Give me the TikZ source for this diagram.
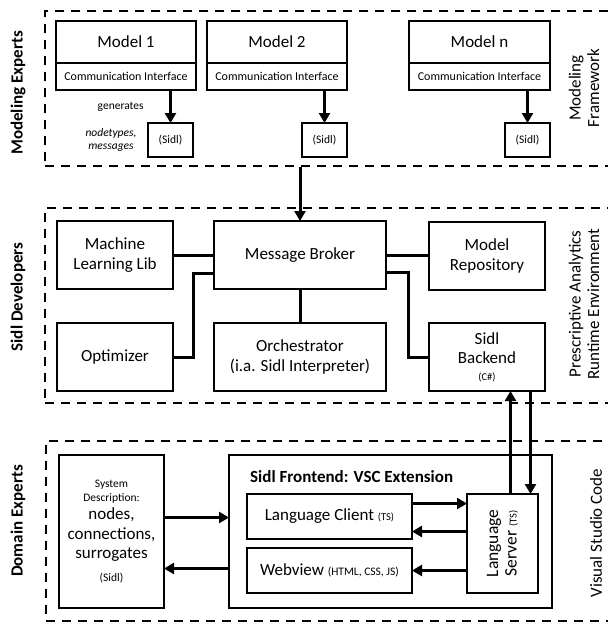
\documentclass[tikz,border=0pt]{standalone}
\usepackage{fontspec}
\setmainfont{Carlito}
\usetikzlibrary{arrows.meta,positioning}

\newcommand{\tinytext}{\fontsize{10.5}{11}\selectfont}
\newcommand{\smalltext}{\fontsize{11.5}{13}\selectfont}
\newcommand{\normtext}{\fontsize{17}{19.5}\selectfont}

\begin{document}
\begin{tikzpicture}[x=1pt, y=-1pt,
			block/.style={rectangle, draw, line width=2pt, inner sep=0pt, outer sep=0pt, align=center, anchor=north west, font=\normtext},
			iface/.style={block, font=\fontsize{12}{14}\selectfont},
			small/.style={block, font=\smalltext},
			group/.style={rectangle, draw, line width=1.8pt, dash pattern=on 9pt off 7pt, anchor=north west, inner sep=0pt},
			role/.style={rotate=90, font=\bfseries\fontsize{17}{19}\selectfont},
			env/.style={rotate=90, align=center, font=\fontsize{17}{18.5}\selectfont},
			conn/.style={line width=3pt},
			arrow/.style={line width=3pt, -{Triangle[length=10pt, width=11pt]}}
		]
		\useasboundingbox (0,0) rectangle (608,622);

		% Groups
		\node[group, minimum width=580, minimum height=155] (grpA) at (44,10) {};
		\node[group, minimum width=580, minimum height=195] (grpB) at (44,207) {};
		\node[group, minimum width=580, minimum height=180] (grpC) at (45,440) {};

		\node[role] (roleA) at (18,93) {Modeling Experts};
		\node[role] (roleB) at (18,297) {Sidl Developers};
		\node[role] (roleC) at (18,521) {Domain Experts};

		\node[env] (envA) at (584,88) {Modeling\\Framework};
		\node[env] (envB) at (584,304) {Prescriptive Analytics\\Runtime Environment};
		\node[env] (envC) at (596,533) {Visual Studio Code};

		% Models
		\node[block, minimum width=140, minimum height=42] (model1) at (56,21) {Model 1};
		\node[iface, minimum width=140, minimum height=27] (comm1) at (56,63) {Communication Interface};
		\node[block, minimum width=140, minimum height=42] (model2) at (207,21) {Model 2};
		\node[iface, minimum width=140, minimum height=27] (comm2) at (207,63) {Communication Interface};
		\node[block, minimum width=141, minimum height=42] (modeln) at (409,21) {Model n};
		\node[iface, minimum width=141, minimum height=27] (commn) at (409,63) {Communication Interface};

		\node[small, minimum width=45, minimum height=34] (sidl1) at (148,123) {(Sidl)};
		\node[small, minimum width=45, minimum height=34] (sidl2) at (302,123) {(Sidl)};
		\node[small, minimum width=45, minimum height=34] (sidln) at (505,123) {(Sidl)};
		\node[left=8pt of sidl1, align=center, font=\itshape\smalltext] (msgtypes) {nodetypes,\\messages};

		\draw[arrow] (sidl1.north |- comm1.south) -- node[left=22pt, font=\smalltext] (gen) {generates} (sidl1.north);
		\draw[arrow] (sidl2.north |- comm2.south) -- (sidl2.north);
		\draw[arrow] (sidln.north |- commn.south) -- (sidln.north);

		% Runtime environment
		\node[block, minimum width=116, minimum height=68] (mll) at (57,221) {Machine\\Learning Lib};
		\node[block, minimum width=172, minimum height=68] (broker) at (214,221) {Message Broker};
		\node[block, minimum width=116, minimum height=68] (repo) at (429,222) {Model\\Repository};
		\node[block, minimum width=116, minimum height=68] (opt) at (57,323) {Optimizer};
		\node[block, minimum width=172, minimum height=68] (orch) at (214,323) {Orchestrator\\(i.a. Sidl Interpreter)};
		\node[block, minimum width=116, minimum height=68] (backend) at (429,323) {Sidl\\Backend\\[-3pt]\tinytext (C\#)};

		\draw[arrow] (broker.north |- grpA.south) -- (broker.north);
		\draw[conn] (mll.east) -- (broker.west |- mll.east);
		\draw[conn] (broker.east) -- (repo.west |- broker.east);
		\draw[conn] (broker) -- (orch);
		\draw[conn] (opt.east) -- ++(20,0) |- ([yshift=-18pt]broker.west);
		\draw[conn] ([yshift=-17pt]broker.east) -- ++(22,0) |- (backend.west);

		% VSC extension
		\node[block, minimum width=105, minimum height=153] (sysdesc) at (59,455) {\smalltext System\\[-6pt]\smalltext Description:\\[-1pt]\normtext nodes,\\\normtext connections,\\\normtext surrogates\\[3pt]\smalltext (Sidl)};
		\node[block, minimum width=323, minimum height=153] (frontend) at (229,455) {};
		\node[anchor=west, font=\bfseries\fontsize{17}{19}\selectfont, inner sep=0pt] (fronttitle) at (250,477) {Sidl Frontend: VSC Extension};
		\node[block, minimum width=165, minimum height=45] (client) at (247,494) {Language Client {\tinytext (TS)}};
		\node[block, minimum width=165, minimum height=45] (webview) at (247,548) {Webview {\fontsize{11.5}{12}\selectfont (HTML, CSS, JS)}};
		\node[block, minimum width=71, minimum height=99] (server) at (467,494) {};
		\node[rotate=90, align=center, font=\fontsize{17.5}{18.5}\selectfont] (servertext) at (server.center) {Language\\Server {\tinytext (TS)}};

		\draw[arrow] ([xshift=8pt]server.north) -- ([xshift=8pt]server.north |- backend.south);
		\draw[arrow] ([xshift=28pt]server.north |- backend.south) -- ([xshift=28pt]server.north);
		\draw[arrow] ([yshift=14pt]sysdesc.east) -- ([yshift=14pt]sysdesc.east -| frontend.west);
		\draw[arrow] ([yshift=-37pt]sysdesc.east -| frontend.west) -- ([yshift=-37pt]sysdesc.east);
		\draw[arrow] ([yshift=13pt]client.east) -- ([yshift=13pt]client.east -| server.west);
		\draw[arrow] ([yshift=-15pt]client.east -| server.west) -- ([yshift=-15pt]client.east);
		\draw[arrow] (server.west |- webview.east) -- (webview.east);

	\end{tikzpicture}
\end{document}
